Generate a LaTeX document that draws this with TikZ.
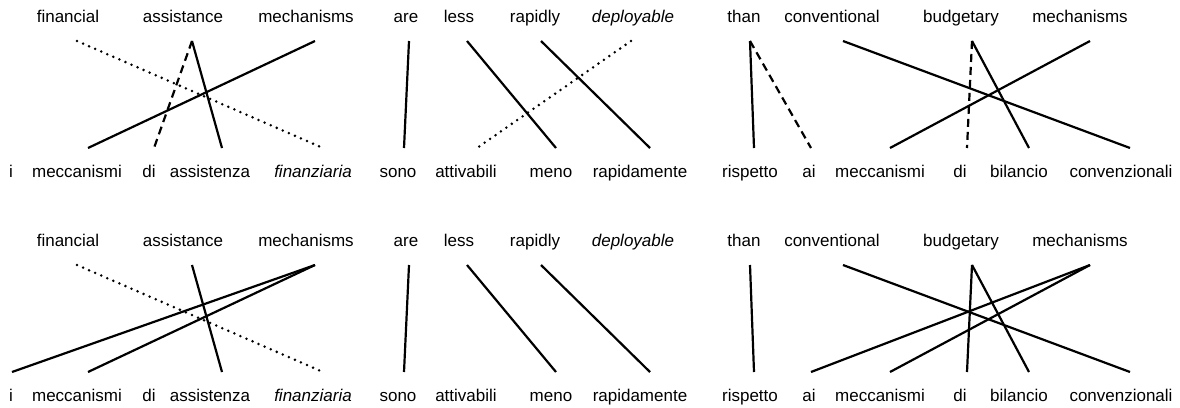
\documentclass[tikz,border=0pt]{standalone}
\usepackage{fontspec}
\setmainfont{Liberation Sans}
\begin{document}
\begin{tikzpicture}[x=1pt,y=-1pt,
  word/.style={anchor=base,inner sep=0pt,font=\fontsize{17}{20}\selectfont},
  link/.style={line width=2.2pt},
  dotlink/.style={line width=2.8pt,line cap=round,dash pattern=on 0pt off 6.6pt},
  dashlink/.style={line width=2.2pt,dash pattern=on 8pt off 5pt}]
\useasboundingbox (0,0) rectangle (1180,407);
\foreach \p/\dy in {A/0,B/224}{
  \foreach \n/\x/\ex/\t in {fin/68/77/financial, ass/183/192/assistance, mec/306/315/mechanisms,
      are/406/409/are, less/459/467/less, rap/535/541/rapidly, dep/633/631/{\textit{deployable}},
      than/744/750/than, conv/832/843/conventional, bud/961/972/budgetary, mecz/1080/1090/mechanisms}{
    \node[word] (\p t\n) at (\x,22+\dy) {\t};
    \coordinate (\p t\n e) at (\ex,41+\dy);
  }
  \foreach \n/\x/\ex/\t in {i/11/12/i, mecc/77/88/meccanismi, di/149/154/di, assi/210/222/assistenza,
      fina/313/323/{\textit{finanziaria}}, sono/398/404/sono, att/466/477/attivabili, meno/551/556/meno,
      rapi/640/650/rapidamente, risp/750/754/rispetto, ai/809/811/ai, meccz/880/890/meccanismi,
      diz/960/967/di, bil/1019/1029/bilancio, convz/1121/1130/convenzionali}{
    \node[word] (\p b\n) at (\x,177+\dy) {\t};
    \coordinate (\p b\n e) at (\ex,148+\dy);
  }
}
% Panel A
\draw[dotlink] (Atfine) -- (Abfinae);
\draw[dashlink] (Atasse) -- (Abdie);
\draw[link] (Atasse) -- (Abassie);
\draw[link] (Atmece) -- (Abmecce);
\draw[link] (Ataree) -- (Absonoe);
\draw[link] (Atlesse) -- (Abmenoe);
\draw[link] (Atrape) -- (Abrapie);
\draw[dotlink] (Atdepe) -- (Abatte);
\draw[link] (Atthane) -- (Abrispe);
\draw[dashlink] (Atthane) -- (Abaie);
\draw[link] (Atconve) -- (Abconvze);
\draw[dashlink] (Atbude) -- (Abdize);
\draw[link] (Atbude) -- (Abbile);
\draw[link] (Atmecze) -- (Abmeccze);
% Panel B
\draw[dotlink] (Btfine) -- (Bbfinae);
\draw[link] (Btasse) -- (Bbassie);
\draw[link] (Btmece) -- (Bbie);
\draw[link] (Btmece) -- (Bbmecce);
\draw[link] (Btaree) -- (Bbsonoe);
\draw[link] (Btlesse) -- (Bbmenoe);
\draw[link] (Btrape) -- (Bbrapie);
\draw[link] (Btthane) -- (Bbrispe);
\draw[link] (Btconve) -- (Bbconvze);
\draw[link] (Btbude) -- (Bbdize);
\draw[link] (Btbude) -- (Bbbile);
\draw[link] (Btmecze) -- (Bbaie);
\draw[link] (Btmecze) -- (Bbmeccze);
\end{tikzpicture}
\end{document}
